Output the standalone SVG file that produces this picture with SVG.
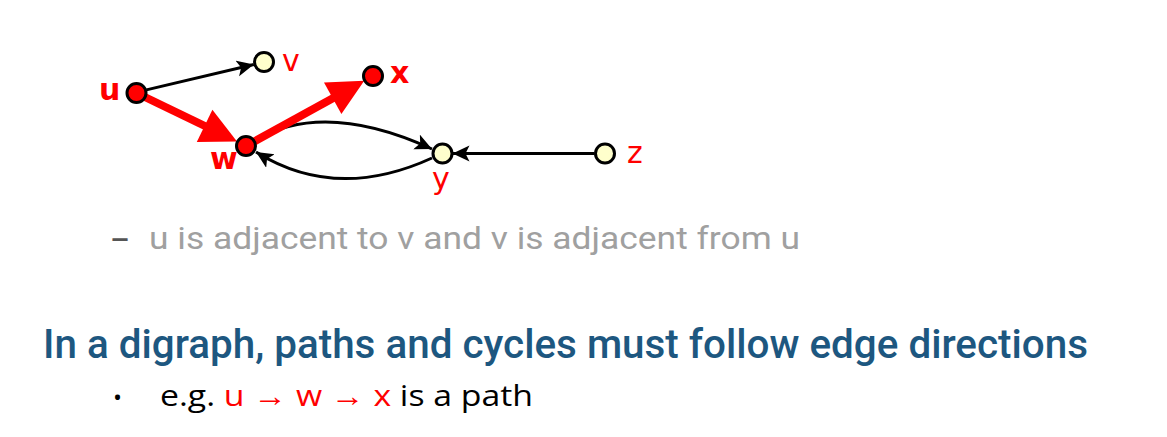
<svg xmlns="http://www.w3.org/2000/svg" width="1167" height="437" viewBox="0 0 1167 437">
<style>
.edge{fill:none;stroke:#000;stroke-width:3}
.red{stroke:#ff0000;stroke-width:8;fill:none}
.redhead{fill:#ff0000}
.nr{fill:#ff0000;stroke:#000;stroke-width:3}
.ny{fill:#ffffcc;stroke:#000;stroke-width:3}
.lab{font-family:"DejaVu Sans",Verdana,sans-serif;font-size:30px;fill:#ff0000}
.b{font-weight:bold}
.t{font-family:"Open Sans","Noto Sans",sans-serif}
.h{font-family:Roboto,"Noto Sans",sans-serif}
</style>
<defs>
<marker id="ah" markerUnits="userSpaceOnUse" markerWidth="20" markerHeight="18" refX="17" refY="8" orient="auto" viewBox="0 0 20 18">
<path d="M0,0 L17,8 L0,16 L4,8 z" fill="#000"/>
</marker>
</defs>
<rect width="1167" height="437" fill="#fff"/>
<g id="edges">
<line class="edge" x1="146.4" y1="89.9" x2="253.8" y2="64.5" marker-end="url(#ah)"/>
<line class="edge" x1="594.5" y1="153.5" x2="452.5" y2="153.5" marker-end="url(#ah)"/>
<path class="edge" d="M255,140 Q325,100 432,149" marker-end="url(#ah)"/>
<path class="edge" d="M432,158 Q336,202 256,152" marker-end="url(#ah)"/>
<line class="red" x1="136.5" y1="93" x2="208" y2="127.5"/>
<polygon class="redhead" points="237,141.6 196.8,142.1 212.4,109.7"/>
<line class="red" x1="246" y1="146" x2="336" y2="96.5"/>
<polygon class="redhead" points="364.2,80.8 341.4,114.0 324.0,82.4"/>
</g>
<g id="node-u"><circle class="nr" cx="136.5" cy="93" r="9.5"/><text class="lab b" x="99" y="100">u</text></g>
<g id="node-v"><circle class="ny" cx="264" cy="62" r="9.5"/><text class="lab" x="282" y="71">v</text></g>
<g id="node-x"><circle class="nr" cx="373" cy="76" r="9.5"/><text class="lab b" x="390" y="83">x</text></g>
<g id="node-w"><circle class="nr" cx="246" cy="146" r="9.5"/><text class="lab b" x="210" y="169">w</text></g>
<g id="node-y"><circle class="ny" cx="442.5" cy="153.5" r="9.5"/><text class="lab" x="432" y="189">y</text></g>
<g id="node-z"><circle class="ny" cx="605" cy="153.5" r="9.5"/><text class="lab" x="627" y="163">z</text></g>
<text class="t" x="111" y="250" font-size="36" fill="#555">–</text>
<text class="h" x="149" y="249" font-size="31" fill="#a0a0a0" textLength="651" lengthAdjust="spacingAndGlyphs">u is adjacent to v and v is adjacent from u</text>
<text class="h" x="43" y="358" font-size="40" font-weight="500" fill="#1d5780" textLength="1045" lengthAdjust="spacingAndGlyphs">In a digraph, paths and cycles must follow edge directions</text>
<text class="t" x="113" y="406" font-size="24" fill="#000">•</text>
<text class="t" x="160" y="406" font-size="30" fill="#000" textLength="373" lengthAdjust="spacingAndGlyphs">e.g. <tspan fill="#ff0000">u → w → x</tspan> is a path</text>
</svg>
